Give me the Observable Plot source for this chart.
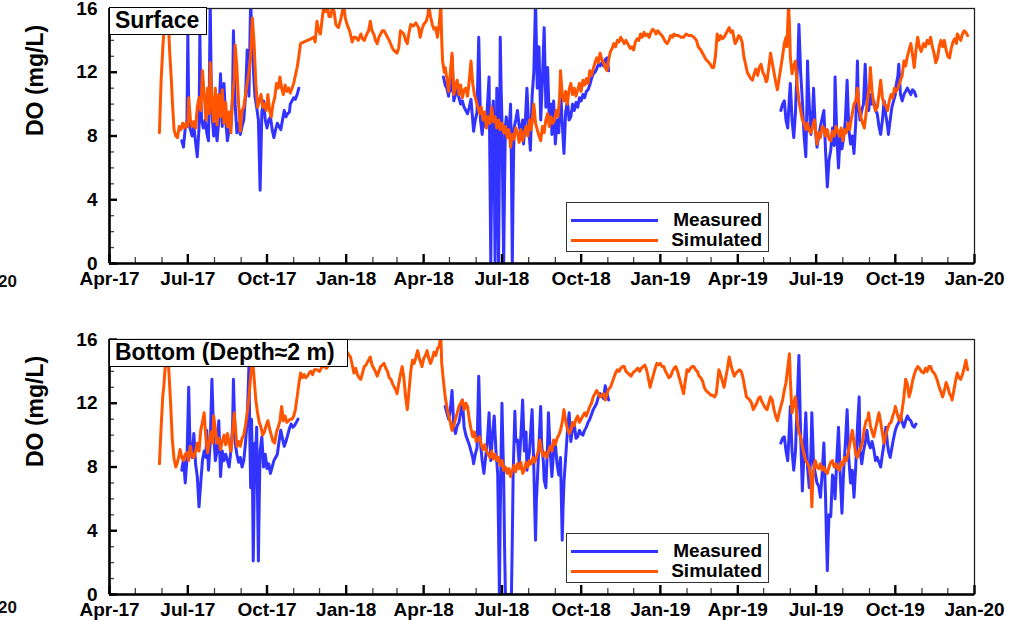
<!DOCTYPE html>
<html><head><meta charset="utf-8">
<script src="https://cdn.jsdelivr.net/npm/d3@7"></script>
<script src="https://cdn.jsdelivr.net/npm/@observablehq/plot@0.6"></script>
<style>
body{margin:0;background:#fff;font-family:"Liberation Sans",Arial,sans-serif;}
#wrap{position:relative;width:1009px;height:620px;overflow:hidden;background:#fff;}
.panel{position:absolute;left:0;width:1009px;height:310px;}
.title{position:absolute;background:#fff;border:1.3px solid #000;font-weight:bold;font-size:23px;line-height:25px;padding-left:5px;box-sizing:border-box;white-space:nowrap;color:#000;}
.legend{position:absolute;background:#fff;border:1.3px solid #333;box-sizing:border-box;width:203px;height:50px;}
.legend .ln{position:absolute;left:4px;width:87px;height:0;border-top:3px solid;}
.legend .tx{position:absolute;right:6px;font-weight:bold;font-size:19px;line-height:20px;color:#000;}
.cut{position:absolute;left:-4px;width:21px;text-align:right;font-weight:bold;font-size:17px;line-height:20px;color:#111;}
</style></head>
<body><div id="wrap"></div>
<script>
// time axis: days since 2017-04-01 (model time)
const t0 = Date.UTC(2017, 3, 1);
const xTickDates = ["2017-04-01","2017-07-01","2017-10-01","2018-01-01","2018-04-01","2018-07-01","2018-10-01","2019-01-01","2019-04-01","2019-07-01","2019-10-01","2020-01-01"];
const xTickLabels = ["Apr-17","Jul-17","Oct-17","Jan-18","Apr-18","Jul-18","Oct-18","Jan-19","Apr-19","Jul-19","Oct-19","Jan-20"];
const yTicks = [0, 4, 8, 12, 16];
const yMinorTicks = [1,2,3,5,6,7,9,10,11,13,14,15];
const seriesNames = ["Measured", "Simulated"];
const panelTitles = ["Surface", "Bottom (Depth\u22482 m)"];

const surfSim = [[58,8.2],[60,11.5],[62,13.6],[64,15.2],[66,16.6],[68,15.6],[70,13.2],[71,12.3],[72,11.4],[73,10.2],[75,8.4],[77,8.0],[79,7.9],[81,8.6],[83,8.4],[85,8.8],[87,8.5],[89,8.8],[91,8.6],[92,10.4],[94,9.0],[96,8.6],[98,8.9],[100,8.5],[102,9.8],[104,10.4],[106,9.6],[108,12.1],[110,10.6],[112,9.0],[114,11.0],[116,9.4],[117,12.6],[119,10.2],[121,8.9],[123,11.0],[125,8.7],[127,10.6],[129,9.2],[131,10.9],[133,8.8],[135,10.1],[137,8.6],[139,9.5],[141,8.2],[143,10.5],[145,11.6],[146,13.7],[148,12.3],[150,10.0],[152,8.3],[154,9.6],[156,9.8],[158,10.6],[160,11.3],[162,12.0],[164,13.1],[166,15.4],[168,13.8],[170,11.3],[172,9.8],[174,10.2],[176,10.6],[178,9.8],[180,10.0],[182,9.6],[184,10.6],[186,9.6],[188,9.2],[190,10.0],[192,10.4],[194,11.3],[196,11.0],[198,11.7],[200,11.0],[202,10.6],[204,11.2],[206,10.8],[208,11.0],[210,10.7],[212,11.0],[214,11.3],[216,11.8],[218,12.3],[220,13.0],[222,13.8],[226,13.9],[230,14.0],[234,14.1],[237,14.2],[239,13.9],[241,15.2],[243,14.6],[245,14.4],[247,15.3],[249,16.2],[251,15.8],[253,16.2],[255,15.5],[257,15.5],[259,16.1],[261,15.8],[263,15.0],[266,14.8],[269,15.4],[272,16.2],[274,15.4],[276,15.0],[279,14.6],[282,13.9],[284,14.2],[286,14.2],[289,14.0],[292,14.4],[294,14.1],[296,14.0],[299,14.4],[301,14.6],[303,15.2],[305,14.6],[307,14.4],[309,14.0],[311,13.8],[313,14.2],[315,14.4],[317,14.6],[319,14.6],[322,14.3],[325,14.0],[328,13.6],[330,13.4],[332,13.3],[334,13.2],[336,13.5],[338,14.6],[340,14.5],[342,14.4],[344,14.0],[346,13.8],[348,14.5],[350,15.0],[353,14.9],[356,15.1],[359,14.8],[361,14.2],[363,14.7],[365,15.0],[368,15.2],[370,15.6],[371,16.1],[373,15.5],[375,15.0],[377,14.7],[379,14.8],[381,14.2],[383,15.0],[385,16.2],[386,14.0],[387,12.7],[389,12.0],[390,12.3],[392,11.6],[394,10.8],[396,12.0],[398,13.2],[400,10.6],[402,11.2],[404,11.5],[406,10.6],[408,11.2],[410,10.4],[412,10.9],[414,11.0],[416,10.5],[418,11.5],[420,12.7],[422,11.3],[424,10.6],[426,10.2],[428,9.8],[430,9.4],[432,9.8],[434,9.0],[436,9.5],[438,8.5],[440,9.2],[442,8.8],[444,9.8],[446,8.9],[448,9.2],[450,8.5],[452,9.0],[454,8.4],[456,8.8],[458,8.2],[460,8.6],[462,7.9],[464,8.4],[466,7.3],[468,8.1],[470,7.8],[472,8.5],[474,8.2],[476,7.6],[478,8.4],[480,7.7],[482,8.2],[484,8.6],[486,8.0],[488,9.0],[490,8.4],[492,9.4],[493,10.0],[495,8.8],[497,8.4],[499,8.0],[501,7.7],[503,8.6],[505,8.2],[507,9.0],[509,9.4],[511,8.6],[513,9.2],[515,8.8],[517,9.0],[519,9.6],[521,9.2],[523,10.4],[524,12.1],[526,10.6],[528,10.2],[530,10.8],[532,10.0],[534,10.9],[536,11.3],[538,10.6],[540,11.0],[542,10.5],[544,10.9],[546,11.3],[548,10.8],[550,11.5],[552,11.2],[554,11.6],[556,11.3],[558,12.1],[560,11.8],[562,12.2],[564,12.6],[566,12.9],[568,12.6],[570,13.2],[572,12.8],[574,12.6],[576,12.3],[578,12.1],[580,12.8],[582,13.3],[584,13.5],[586,13.8],[588,13.6],[590,14.0],[592,13.9],[594,14.2],[596,14.0],[598,13.8],[600,14.0],[602,13.8],[605,13.5],[607,13.6],[609,13.4],[611,13.9],[613,14.1],[615,14.0],[617,14.4],[619,14.2],[621,14.5],[623,14.3],[625,14.4],[627,14.2],[629,14.5],[631,14.7],[633,14.6],[635,14.4],[637,14.6],[640,14.4],[642,14.3],[644,14.1],[646,13.9],[648,13.8],[650,14.0],[652,14.3],[654,14.2],[656,14.4],[658,14.3],[661,14.3],[664,14.2],[667,14.2],[670,14.4],[673,14.3],[676,14.3],[679,14.2],[682,14.0],[684,13.6],[687,13.4],[690,13.1],[693,12.8],[695,12.7],[698,12.5],[700,12.3],[702,12.3],[704,13.0],[706,14.4],[708,14.0],[710,14.3],[712,14.1],[714,14.2],[716,14.4],[718,14.6],[720,14.8],[722,14.5],[724,14.6],[726,14.0],[727,13.8],[729,14.0],[731,14.3],[733,14.2],[735,13.9],[737,13.0],[739,12.5],[741,12.0],[743,11.8],[745,11.6],[747,11.5],[749,11.9],[751,12.2],[753,11.8],[755,12.3],[757,12.5],[759,12.0],[761,11.8],[763,11.4],[764,11.5],[766,12.3],[768,13.2],[770,12.6],[772,12.0],[774,11.4],[776,10.9],[778,11.6],[780,12.3],[782,13.0],[784,13.8],[786,14.2],[787,13.6],[788,15.0],[789,16.2],[790,15.0],[791,13.0],[793,11.9],[795,12.4],[797,12.7],[799,11.2],[801,10.2],[803,9.6],[805,9.0],[807,8.8],[809,8.4],[811,8.8],[813,8.3],[815,8.2],[817,8.6],[819,9.0],[821,8.0],[822,7.5],[824,8.2],[826,7.9],[828,8.6],[830,8.5],[832,8.0],[834,8.4],[836,7.8],[838,7.7],[840,8.3],[842,8.0],[844,8.6],[846,8.3],[848,8.0],[850,8.5],[852,7.7],[854,8.4],[856,8.2],[858,8.8],[860,8.4],[861,8.8],[863,9.4],[865,10.0],[867,10.2],[869,11.0],[871,9.8],[873,9.2],[875,8.8],[877,8.5],[879,9.4],[881,10.4],[883,11.2],[884,12.3],[886,10.8],[888,10.0],[890,9.6],[892,9.8],[894,10.6],[896,11.5],[898,10.4],[900,10.0],[902,9.9],[904,9.6],[906,10.2],[908,10.6],[910,10.4],[912,11.0],[914,10.8],[916,11.0],[919,11.5],[921,11.8],[923,12.7],[925,12.4],[927,13.0],[929,13.4],[931,13.8],[933,13.1],[935,12.3],[937,13.4],[939,14.2],[941,13.6],[943,13.3],[946,13.8],[948,13.6],[950,14.0],[952,13.8],[954,14.2],[956,13.6],[958,13.2],[960,12.6],[962,12.9],[964,13.6],[966,14.0],[968,13.6],[970,14.0],[972,13.4],[974,13.0],[976,12.9],[978,13.5],[980,13.9],[982,14.1],[984,13.8],[985,14.4],[987,14.2],[989,14.0],[991,14.4],[993,14.6],[995,14.5],[997,14.3]];

const surfObs = [[84,7.7],[86,7.3],[88,8.5],[90,9.0],[91,14.4],[92,10.0],[93,8.6],[95,8.2],[96,8.0],[98,8.6],[100,7.6],[102,6.7],[104,8.5],[105,14.5],[106,10.5],[107,9.0],[109,8.5],[111,9.0],[113,8.2],[115,7.7],[116,11.0],[117,16.5],[118,12.0],[119,9.5],[121,8.0],[123,8.8],[125,7.7],[127,9.0],[129,11.9],[131,8.6],[133,11.3],[135,9.0],[137,7.7],[139,8.4],[141,8.6],[143,10.5],[144,14.6],[146,10.0],[148,8.2],[150,8.8],[152,8.1],[154,8.6],[156,9.0],[158,10.5],[160,13.4],[162,10.5],[164,16.5],[166,13.5],[167,12.3],[169,10.5],[171,9.8],[173,9.0],[175,4.6],[177,9.5],[179,10.2],[181,9.0],[183,8.5],[185,9.0],[187,9.2],[189,8.4],[191,7.9],[193,8.4],[195,8.8],[197,8.6],[199,8.4],[201,9.0],[203,9.6],[205,9.2],[207,9.4],[209,9.5],[210,10.0],[212,10.2],[214,10.4],[216,10.3],[218,10.6],[220,11.0],[221,NaN],
[388,11.7],[390,11.2],[392,11.0],[394,10.5],[395,11.5],[396,10.8],[398,13.0],[400,10.2],[402,10.6],[404,10.9],[406,10.4],[408,10.0],[410,10.2],[412,9.8],[414,9.6],[416,9.4],[418,9.8],[420,10.3],[422,9.0],[423,8.3],[425,9.0],[427,9.5],[429,14.2],[431,9.0],[433,8.1],[435,9.3],[437,8.6],[439,9.8],[441,11.7],[442,6.0],[443,0],[444,5.0],[445,9.5],[446,10.2],[447,6.0],[448,0],[449,5.5],[450,11.0],[451,8.0],[452,0],[453,6.0],[454,14.2],[455,11.0],[456,9.0],[457,4.0],[458,0],[459,5.0],[460,8.6],[461,9.2],[463,8.1],[465,9.0],[466,10.0],[467,6.0],[468,0],[469,5.0],[470,8.5],[472,9.0],[474,9.6],[476,8.6],[478,8.2],[480,9.0],[481,7.5],[483,8.8],[485,11.0],[487,8.6],[489,7.1],[491,10.5],[493,12.0],[495,16.5],[497,11.0],[499,13.6],[501,9.0],[503,11.5],[505,14.8],[507,9.8],[509,12.3],[511,9.0],[513,10.0],[514,8.1],[516,10.2],[518,7.5],[520,9.0],[522,8.2],[524,11.0],[526,8.8],[528,6.9],[530,9.5],[532,10.2],[534,9.0],[536,9.2],[538,10.0],[540,9.6],[542,10.1],[544,9.8],[546,10.4],[548,10.2],[550,10.6],[552,10.4],[554,10.8],[556,10.9],[558,11.2],[560,11.6],[562,11.9],[564,12.0],[566,12.2],[568,12.5],[570,12.4],[572,12.6],[574,12.4],[576,12.8],[578,12.9],[580,12.1],[581,NaN],
[780,9.6],[782,10.0],[784,10.2],[786,9.0],[788,8.5],[790,10.5],[791,11.3],[793,9.0],[795,7.9],[797,9.5],[798,11.0],[800,13.0],[801,15.0],[802,13.5],[803,12.0],[805,10.2],[807,8.0],[809,6.7],[810,9.0],[811,12.7],[812,11.0],[813,10.0],[815,8.1],[817,9.4],[818,11.0],[820,8.5],[822,7.3],[824,8.0],[826,8.6],[828,9.1],[830,9.6],[832,7.0],[834,4.8],[836,6.5],[838,7.1],[840,8.5],[842,7.4],[843,11.7],[845,8.0],[847,6.0],[849,8.2],[851,7.2],[853,7.9],[855,9.0],[857,11.5],[859,8.4],[861,7.5],[863,8.0],[865,6.9],[867,8.8],[869,12.7],[870,10.0],[872,9.0],[874,9.6],[876,10.0],[878,12.5],[880,10.0],[882,9.6],[884,10.6],[886,10.0],[888,10.2],[890,9.6],[892,9.4],[894,8.6],[896,8.1],[898,9.0],[900,10.2],[902,9.3],[904,8.6],[905,8.1],[907,9.0],[909,9.8],[911,10.2],[913,10.6],[914,11.2],[916,11.8],[917,12.5],[919,10.6],[921,10.2],[923,10.6],[925,10.8],[927,11.0],[929,10.8],[931,10.6],[933,10.9],[935,10.8],[937,10.5]];

const botSim = [[58,8.2],[60,10.5],[62,12.5],[63,13.0],[65,14.5],[67,16.2],[69,14.0],[71,12.0],[72,10.8],[73,9.7],[75,8.5],[77,8.0],[79,8.3],[81,8.8],[82,9.1],[84,8.6],[86,8.4],[88,8.8],[90,8.9],[92,8.4],[94,9.3],[96,8.7],[98,8.6],[100,9.0],[102,9.5],[104,9.0],[106,10.3],[108,10.8],[110,11.4],[112,9.8],[114,8.9],[116,9.6],[118,10.2],[120,9.5],[121,11.2],[123,10.4],[125,9.5],[127,9.8],[129,9.1],[131,9.6],[133,10.0],[135,9.4],[137,10.1],[139,9.5],[141,9.0],[143,10.2],[145,11.4],[147,10.0],[148,9.3],[150,9.6],[152,9.3],[154,9.8],[156,10.0],[158,10.6],[160,11.4],[162,12.4],[164,13.7],[166,14.9],[168,13.6],[170,12.2],[172,11.4],[174,10.8],[176,10.5],[178,10.0],[180,10.2],[182,10.6],[184,10.9],[186,10.4],[188,10.0],[190,9.6],[192,9.5],[194,10.2],[196,10.5],[198,10.9],[200,11.8],[202,10.9],[204,11.2],[206,10.8],[208,10.9],[210,11.0],[212,11.0],[214,11.2],[216,11.6],[218,12.4],[220,13.2],[222,13.9],[224,13.6],[226,13.8],[228,13.6],[230,13.7],[232,13.9],[234,14.0],[236,13.8],[238,14.1],[241,14.1],[244,14.0],[247,14.3],[249,14.3],[252,14.2],[255,14.4],[258,14.5],[261,14.6],[264,15.0],[268,15.4],[272,15.6],[276,15.2],[280,14.9],[282,14.4],[284,13.9],[286,14.2],[288,13.8],[290,13.6],[292,13.5],[294,13.9],[296,14.3],[298,14.4],[300,14.6],[303,14.9],[305,14.4],[307,14.2],[309,14.0],[311,13.7],[313,14.0],[315,14.3],[317,14.4],[319,14.5],[321,14.2],[323,14.0],[325,13.6],[327,13.5],[329,13.2],[331,13.0],[333,12.8],[334,12.6],[336,13.2],[338,13.8],[340,14.3],[342,13.6],[344,12.4],[346,11.6],[348,12.8],[350,14.0],[352,14.7],[354,14.5],[356,14.9],[358,15.3],[360,14.8],[362,14.5],[363,14.3],[365,14.8],[367,15.0],[369,15.3],[371,14.8],[373,14.5],[375,14.8],[377,15.2],[379,15.0],[381,15.4],[383,15.6],[385,16.2],[386,14.5],[388,13.4],[390,12.4],[392,11.8],[394,11.2],[396,10.8],[398,10.3],[400,10.6],[402,11.0],[404,11.4],[406,11.8],[408,12.0],[410,12.2],[412,11.6],[414,12.0],[416,11.8],[418,11.0],[420,10.4],[422,9.9],[424,10.2],[426,9.6],[428,9.7],[430,9.9],[432,9.4],[434,9.1],[436,9.4],[438,9.0],[440,8.8],[442,8.6],[444,9.0],[446,8.5],[448,8.8],[450,8.4],[452,8.6],[454,8.1],[456,8.4],[458,7.8],[460,8.0],[462,7.6],[464,7.9],[466,7.4],[468,7.8],[470,8.1],[472,7.7],[474,8.2],[476,7.9],[478,8.3],[480,7.6],[482,7.8],[484,8.3],[486,8.0],[488,8.4],[490,8.2],[492,8.6],[494,8.3],[496,8.6],[498,9.0],[500,9.7],[502,9.0],[504,8.7],[506,8.9],[508,8.6],[510,9.0],[512,9.3],[514,9.0],[516,9.7],[518,9.4],[520,9.8],[522,10.0],[524,10.3],[526,10.8],[528,11.6],[530,10.9],[532,10.4],[534,10.1],[536,10.3],[538,10.8],[540,10.6],[542,11.0],[544,11.2],[546,10.8],[548,11.0],[550,11.2],[552,11.4],[554,11.2],[556,11.5],[558,11.8],[560,12.0],[562,12.4],[564,12.6],[566,12.8],[568,12.6],[570,12.4],[572,12.5],[574,12.6],[576,12.2],[578,12.6],[580,12.9],[582,13.0],[584,13.3],[586,13.6],[588,13.9],[590,14.1],[592,14.0],[594,14.2],[596,14.3],[598,14.3],[600,14.0],[602,13.9],[604,13.8],[606,13.7],[608,13.9],[610,14.0],[612,14.1],[614,14.2],[616,14.0],[618,14.2],[620,14.3],[622,14.4],[624,14.1],[626,13.6],[628,13.0],[630,13.4],[632,13.8],[634,14.2],[636,14.5],[638,14.4],[640,14.5],[642,14.3],[644,14.3],[646,14.0],[648,13.8],[650,13.6],[652,13.7],[654,14.0],[656,14.2],[658,14.3],[660,14.0],[662,13.6],[664,13.2],[666,12.8],[667,12.6],[669,13.4],[671,14.1],[673,14.0],[675,14.2],[677,14.3],[679,14.3],[681,14.1],[683,14.0],[685,13.7],[687,13.6],[689,13.4],[691,13.0],[693,12.8],[695,12.7],[697,12.6],[699,12.5],[701,12.5],[703,12.4],[705,12.6],[707,13.6],[708,14.1],[710,13.8],[712,13.4],[714,13.0],[716,13.6],[718,14.2],[720,14.9],[722,14.4],[724,14.0],[726,13.7],[728,13.9],[730,14.0],[732,14.1],[734,14.0],[736,13.6],[738,13.0],[740,12.4],[742,12.3],[744,12.2],[746,12.0],[748,11.6],[750,11.8],[752,12.0],[754,12.3],[756,12.4],[758,12.1],[760,11.9],[762,11.7],[764,11.6],[766,12.0],[768,12.4],[770,12.2],[772,11.6],[774,11.2],[776,10.9],[778,11.4],[780,11.8],[782,12.2],[784,12.8],[786,13.3],[788,14.2],[790,15.1],[791,13.5],[793,11.4],[795,12.0],[797,12.4],[799,10.9],[801,10.2],[803,9.9],[805,9.3],[807,8.8],[809,8.4],[811,8.2],[813,8.0],[815,7.2],[816,5.5],[817,7.0],[818,7.8],[820,8.4],[822,8.0],[824,7.9],[826,8.2],[828,7.8],[830,8.0],[832,7.7],[834,7.6],[836,8.0],[838,8.3],[840,8.4],[842,8.0],[844,8.2],[846,7.9],[848,7.8],[850,8.3],[852,8.1],[854,8.6],[856,8.4],[858,8.8],[860,9.4],[862,10.0],[863,10.3],[865,9.6],[867,8.8],[869,8.6],[871,9.0],[873,9.2],[875,9.6],[877,10.4],[879,10.9],[881,11.0],[882,11.4],[884,10.6],[886,10.2],[888,9.9],[890,10.4],[892,10.9],[894,11.4],[896,10.8],[898,10.1],[900,9.5],[902,10.0],[904,10.4],[906,10.7],[908,10.8],[910,11.2],[912,11.5],[913,11.8],[915,11.4],[917,11.0],[919,10.9],[921,11.6],[923,12.4],[925,13.5],[927,13.2],[929,12.4],[931,12.8],[933,13.4],[935,13.8],[937,14.1],[939,14.3],[941,14.2],[943,14.0],[946,13.9],[948,14.2],[950,14.0],[952,14.3],[954,14.3],[956,14.0],[958,13.9],[960,13.7],[962,13.4],[964,13.0],[966,12.7],[968,12.4],[970,12.8],[972,13.3],[974,13.0],[976,12.6],[978,12.4],[979,12.2],[981,12.8],[983,13.4],[985,13.9],[987,13.6],[989,13.5],[991,13.8],[993,14.2],[995,14.7],[997,14.1]];

const botObs = [[84,7.8],[86,8.5],[88,7.0],[90,8.5],[92,13.0],[93,10.5],[94,9.0],[96,8.6],[98,10.1],[100,8.2],[102,7.4],[104,5.5],[106,7.0],[108,8.4],[110,9.0],[112,8.6],[113,10.3],[115,7.8],[117,9.5],[119,13.5],[121,10.0],[123,8.4],[125,9.0],[127,10.9],[129,7.4],[131,9.0],[133,8.4],[135,8.8],[137,8.4],[139,8.0],[141,9.0],[143,10.5],[144,13.5],[146,9.5],[148,8.8],[150,8.3],[152,8.6],[154,8.0],[156,8.4],[158,9.5],[160,11.0],[162,14.3],[163,10.0],[164,6.7],[165,11.0],[166,8.0],[167,2.1],[168,6.0],[169,9.5],[170,8.8],[171,10.5],[172,6.0],[173,2.1],[174,6.0],[175,9.0],[177,9.9],[179,8.0],[181,8.8],[183,7.9],[185,8.2],[187,7.6],[189,8.0],[191,8.4],[193,8.6],[195,8.8],[197,9.6],[199,10.3],[201,9.8],[203,9.3],[205,9.6],[207,10.0],[209,10.4],[211,10.7],[213,10.5],[215,10.6],[217,10.8],[219,11.0],[220,NaN],
[390,11.8],[392,11.4],[394,11.0],[396,11.6],[398,12.8],[400,10.5],[402,10.1],[404,10.6],[406,10.8],[408,11.4],[410,12.2],[412,10.5],[414,10.0],[416,9.7],[418,9.4],[420,9.0],[422,8.6],[423,8.2],[425,8.8],[427,9.2],[429,13.7],[431,9.5],[433,8.4],[435,7.6],[437,8.6],[439,9.6],[441,11.4],[443,8.4],[445,10.0],[447,11.2],[449,9.0],[451,7.6],[452,4.0],[453,0],[454,5.0],[455,9.0],[456,12.0],[457,9.5],[458,7.2],[459,3.0],[460,0],[462,0],[464,0],[466,0],[467,0],[468,3.5],[469,7.6],[471,11.5],[472,9.6],[474,9.7],[476,8.2],[478,10.0],[480,12.2],[482,9.0],[484,10.2],[485,7.8],[487,8.6],[488,9.0],[490,10.8],[491,11.6],[493,8.0],[494,5.5],[495,3.4],[496,6.0],[497,7.0],[499,9.5],[501,11.8],[502,9.5],[504,8.4],[505,7.2],[507,6.7],[509,9.5],[510,11.4],[512,9.0],[514,7.4],[516,9.0],[518,9.5],[520,8.2],[522,7.5],[524,8.6],[525,6.0],[526,3.4],[527,5.5],[528,7.0],[530,8.6],[532,10.2],[534,11.4],[536,9.6],[538,10.4],[540,10.7],[542,9.8],[544,9.9],[546,10.3],[548,10.1],[550,10.0],[552,10.3],[554,10.5],[556,10.8],[558,11.0],[560,11.3],[562,11.6],[564,11.8],[566,12.0],[568,12.4],[570,12.6],[572,12.5],[574,12.3],[576,13.1],[578,12.6],[580,12.2],[581,NaN],
[780,9.5],[782,9.8],[784,9.9],[786,9.0],[788,8.4],[790,10.5],[791,11.8],[793,9.0],[795,7.8],[797,9.0],[798,10.5],[800,13.5],[801,15.0],[802,12.5],[803,10.0],[805,6.5],[807,9.0],[809,11.4],[811,8.0],[813,6.7],[815,9.0],[816,11.4],[818,8.2],[820,7.6],[822,7.0],[824,6.8],[826,6.1],[828,7.6],[830,9.5],[832,6.0],[833,3.5],[834,1.5],[835,3.5],[836,5.0],[838,4.9],[840,7.5],[842,7.2],[843,6.0],[845,8.5],[847,10.5],[849,7.5],[851,5.1],[853,7.8],[855,9.5],[857,11.6],[859,8.5],[861,7.0],[863,7.8],[865,6.1],[867,8.0],[869,10.5],[871,12.4],[872,9.0],[874,8.2],[876,9.0],[878,9.5],[880,10.3],[882,9.5],[884,9.2],[886,9.6],[888,9.1],[890,8.4],[892,8.6],[894,8.3],[896,8.0],[898,8.8],[900,9.5],[902,10.5],[904,9.4],[905,9.0],[907,8.6],[909,9.2],[911,9.8],[913,10.3],[915,10.6],[917,10.8],[919,11.2],[921,10.8],[923,10.5],[925,10.9],[927,11.2],[929,11.0],[931,10.9],[933,10.6],[935,10.5],[937,10.7]];

const BLUE = "#3333ff", ORANGE = "#ff5500";
const toDate = (day) => new Date(t0 + day * 864e5);
const labelByTime = new Map(xTickDates.map((s, i) => [Date.parse(s), xTickLabels[i]]));
const majorDates = xTickDates.map(s => new Date(s));
const minorDates = d3.utcMonth.range(new Date("2017-04-01"), new Date("2020-01-02")).filter(d => !labelByTime.has(+d));
const FONT = "'Liberation Sans', Arial, Helvetica, sans-serif";

function panel(sim, obs, mt, mb) {
  const W = 1009 - 109 - 35, H = 310 - mt - mb;
  return Plot.plot({
    width: 1009, height: 310,
    marginLeft: 109, marginRight: 35, marginTop: mt, marginBottom: mb,
    style: {fontFamily: FONT, background: "transparent", color: "#000", overflow: "visible"},
    x: {type: "utc", domain: [new Date("2017-04-01"), new Date("2020-01-01")], label: null},
    y: {domain: [0, 16], label: null},
    marks: [
      Plot.line(obs, {x: d => toDate(d[0]), y: d => d[1], stroke: BLUE, strokeWidth: 3, clip: true}),
      Plot.line(sim, {x: d => toDate(d[0]), y: d => d[1], stroke: ORANGE, strokeWidth: 3, clip: true}),
      Plot.frame({stroke: "#222", strokeWidth: 1.3}),
      Plot.ruleX(minorDates, {x: d => d, insetTop: H - 6, stroke: "#444", strokeWidth: 1.3}),
      Plot.ruleX(majorDates, {x: d => d, insetTop: H - 9, stroke: "#000", strokeWidth: 2.4}),
      Plot.ruleY(yMinorTicks, {y: d => d, insetRight: W - 5, stroke: "#444", strokeWidth: 1.3}),
      Plot.ruleY(yTicks, {y: d => d, insetRight: W - 8, stroke: "#000", strokeWidth: 2.4}),
      Plot.ruleX([new Date("2017-04-01")], {stroke: "#000", strokeWidth: 2.6}),
      Plot.ruleY([0], {stroke: "#000", strokeWidth: 2.6}),
      Plot.axisX({ticks: majorDates, tickFormat: d => labelByTime.get(+d), tickSize: 0, tickPadding: 8, fontSize: 19, fontWeight: "bold", fontFamily: FONT, label: null}),
      Plot.axisY({ticks: yTicks, tickSize: 0, tickPadding: 12, fontSize: 19, fontWeight: "bold", fontFamily: FONT, label: null}),
      Plot.text(["DO (mg/L)"], {frameAnchor: "left", dx: -74, rotate: -90, fontSize: 23, fontWeight: "bold", fontFamily: FONT, fill: "#000"})
    ]
  });
}

const wrap = document.getElementById("wrap");
function addPanel(svg, top, title, titleW, pos) {
  const p = document.createElement("div");
  p.className = "panel"; p.style.top = top + "px";
  p.appendChild(svg);
  wrap.appendChild(p);
  const t = document.createElement("div");
  t.className = "title";
  t.style.left = "109px"; t.style.top = (top + pos.titleTop) + "px";
  t.style.width = titleW + "px"; t.style.height = "28px";
  t.textContent = title;
  wrap.appendChild(t);
  const lg = document.createElement("div");
  lg.className = "legend";
  lg.style.left = "566px"; lg.style.top = (top + pos.legend) + "px";
  const colors = [BLUE, ORANGE];
  seriesNames.forEach((name, i) => {
    const ln = document.createElement("div");
    ln.className = "ln"; ln.style.top = (16 + 20 * i) + "px"; ln.style.borderTopColor = colors[i];
    lg.appendChild(ln);
    const tx = document.createElement("div");
    tx.className = "tx"; tx.style.top = (7 + 20 * i) + "px"; tx.textContent = name;
    lg.appendChild(tx);
  });
  wrap.appendChild(lg);
  const c = document.createElement("div");
  c.className = "cut"; c.style.top = (top + pos.cut) + "px"; c.textContent = "20";
  wrap.appendChild(c);
}
addPanel(panel(surfSim, surfObs, 8, 47), 0, panelTitles[0], 98, {titleTop: 7, legend: 202, cut: 272});
addPanel(panel(botSim, botObs, 29, 26), 310, panelTitles[1], 239, {titleTop: 29, legend: 223, cut: 288});
</script></body></html>
